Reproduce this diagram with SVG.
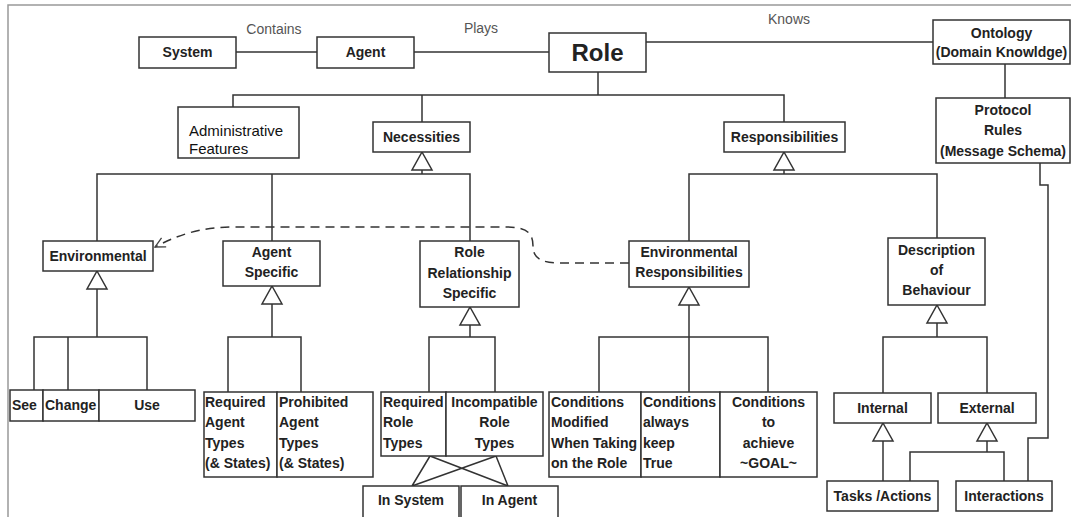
<svg xmlns="http://www.w3.org/2000/svg" width="1071" height="517" viewBox="0 0 1071 517">
<defs>
<style>
.box{fill:#fff;stroke:#333;stroke-width:1.5}
.ln{fill:none;stroke:#333;stroke-width:1.5}
.t{font-family:"Liberation Sans",Arial,sans-serif;font-weight:bold;font-size:14px;fill:#222}
.c{text-anchor:middle}
.lbl{font-family:"Liberation Sans",Arial,sans-serif;font-size:14px;fill:#555;text-anchor:middle}
.n{font-family:"Liberation Sans",Arial,sans-serif;font-size:15px;fill:#111}
</style>
<path id="tri" d="M0,0 L10,18 L-10,18 Z" fill="#fff" stroke="#333" stroke-width="1.5"/>
<marker id="open" viewBox="0 0 12 12" refX="11" refY="6" markerWidth="12" markerHeight="12" markerUnits="userSpaceOnUse" orient="auto">
<path d="M1,1 L11,6 L1,11" fill="none" stroke="#444" stroke-width="1.3"/>
</marker>
</defs>
<rect width="1071" height="517" fill="#fff"/>
<rect x="8" y="5" width="1100" height="600" fill="none" stroke="#999" stroke-width="1.5"/>

<g id="connectors">
<line class="ln" x1="236" y1="52" x2="317" y2="52"/>
<line class="ln" x1="414" y1="52" x2="549" y2="52"/>
<line class="ln" x1="646" y1="42" x2="933" y2="42"/>
<line class="ln" x1="1005" y1="64" x2="1005" y2="98"/>
<line class="ln" x1="598" y1="72" x2="598" y2="95" stroke-width="2"/>
<polyline class="ln" points="233,107 233,95 784,95 784,122"/>
<line class="ln" x1="422" y1="95" x2="422" y2="122"/>
<polyline class="ln" points="1040,163 1040,185 1048,185 1048,438 1028,438 1028,481"/>
<!-- Necessities branch -->
<polyline class="ln" points="97,241 97,174 470,174 470,241"/>
<line class="ln" x1="272" y1="174" x2="272" y2="241"/>
<line class="ln" x1="422" y1="170" x2="422" y2="174"/>
<!-- Responsibilities branch -->
<polyline class="ln" points="689,241 689,174 937,174 937,238"/>
<line class="ln" x1="784" y1="170" x2="784" y2="174"/>
<!-- dashed dependency -->
<path class="ln" d="M629,263 L560,263 C538,263 533,256 533,246 C533,233 527,227 505,227 L235,227 C200,227 178,235 155,247" stroke="#444" stroke-dasharray="9,6" marker-end="url(#open)"/>
<!-- Environmental children -->
<line class="ln" x1="97" y1="289" x2="97" y2="337" stroke-width="2"/>
<polyline class="ln" points="34,390 34,337 147,337 147,390"/>
<line class="ln" x1="68" y1="337" x2="68" y2="390"/>
<!-- Agent specific children -->
<line class="ln" x1="272" y1="304" x2="272" y2="337"/>
<polyline class="ln" points="228,392 228,337 301,337 301,392"/>
<!-- Role relationship children -->
<line class="ln" x1="470" y1="325" x2="470" y2="337"/>
<polyline class="ln" points="429,392 429,337 495,337 495,392"/>
<path class="ln" d="M430,456 L412,486 M430,456 L508,486 M496,456 L412,486 M496,456 L508,486" stroke-width="1.2"/>
<!-- Env responsibilities children -->
<line class="ln" x1="689" y1="305" x2="689" y2="392" stroke-width="2"/>
<polyline class="ln" points="599,392 599,337 768,337 768,392"/>
<!-- Description children -->
<line class="ln" x1="937" y1="323" x2="937" y2="337"/>
<polyline class="ln" points="883,393 883,337 987,337 987,393"/>
<line class="ln" x1="883" y1="441" x2="883" y2="481"/>
<line class="ln" x1="987" y1="441" x2="987" y2="452"/>
<polyline class="ln" points="910,481 910,452 1004,452 1004,481"/>
<!-- generalization triangles -->
<use href="#tri" x="422" y="152"/>
<use href="#tri" x="784" y="152"/>
<use href="#tri" x="97" y="271"/>
<use href="#tri" x="272" y="286"/>
<use href="#tri" x="470" y="307"/>
<use href="#tri" x="689" y="287"/>
<use href="#tri" x="937" y="305"/>
<use href="#tri" x="883" y="423"/>
<use href="#tri" x="987" y="423"/>
</g>

<g id="labels">
<text class="lbl" x="274" y="34">Contains</text>
<text class="lbl" x="481" y="33">Plays</text>
<text class="lbl" x="789" y="24">Knows</text>
</g>

<g id="system"><rect class="box" x="139" y="37" width="97" height="31"/><text class="t c" x="187.5" y="57">System</text></g>
<g id="agent"><rect class="box" x="317" y="37" width="97" height="31"/><text class="t c" x="365.5" y="57">Agent</text></g>
<g id="role"><rect class="box" x="549" y="33" width="97" height="39"/><text class="t c" x="597.5" y="61" style="font-size:24px">Role</text></g>
<g id="ontology"><rect class="box" x="933" y="20" width="137" height="44"/><text class="t c" x="1001.5" y="38">Ontology</text><text class="t c" x="1001.5" y="57">(Domain Knowldge)</text></g>
<g id="protocol"><rect class="box" x="936" y="98" width="134" height="65"/><text class="t c" x="1003" y="115">Protocol</text><text class="t c" x="1003" y="135">Rules</text><text class="t c" x="1003" y="156">(Message Schema)</text></g>
<g id="admin"><rect class="box" x="178" y="107" width="121" height="51"/><text class="n" x="189" y="136">Administrative</text><text class="n" x="189" y="154">Features</text></g>
<g id="necessities"><rect class="box" x="373" y="122" width="97" height="30"/><text class="t c" x="421.5" y="142">Necessities</text></g>
<g id="responsibilities"><rect class="box" x="724" y="122" width="121" height="30"/><text class="t c" x="784.5" y="142">Responsibilities</text></g>
<g id="environmental"><rect class="box" x="43" y="241" width="110" height="30"/><text class="t c" x="98" y="261">Environmental</text></g>
<g id="agent-specific"><rect class="box" x="223" y="241" width="97" height="45"/><text class="t c" x="271.5" y="257">Agent</text><text class="t c" x="271.5" y="277">Specific</text></g>
<g id="role-relationship"><rect class="box" x="420" y="241" width="99" height="66"/><text class="t c" x="469.5" y="257">Role</text><text class="t c" x="469.5" y="278">Relationship</text><text class="t c" x="469.5" y="298">Specific</text></g>
<g id="env-resp"><rect class="box" x="629" y="241" width="120" height="46"/><text class="t c" x="689" y="257">Environmental</text><text class="t c" x="689" y="277">Responsibilities</text></g>
<g id="description"><rect class="box" x="888" y="238" width="97" height="67"/><text class="t c" x="936.5" y="255">Description</text><text class="t c" x="936.5" y="275">of</text><text class="t c" x="936.5" y="295">Behaviour</text></g>

<g id="see"><rect class="box" x="10" y="390" width="33" height="31"/><text class="t" x="12" y="410">See</text></g>
<g id="change"><rect class="box" x="43" y="390" width="56" height="31"/><text class="t" x="45" y="410">Change</text></g>
<g id="use"><rect class="box" x="99" y="390" width="96" height="31"/><text class="t c" x="147" y="410">Use</text></g>

<g id="required-agent"><rect class="box" x="204" y="392" width="73" height="85"/><text class="t" x="205" y="407">Required</text><text class="t" x="205" y="427">Agent</text><text class="t" x="205" y="448">Types</text><text class="t" x="205" y="468">(&amp; States)</text></g>
<g id="prohibited-agent"><rect class="box" x="277" y="392" width="96" height="85"/><text class="t" x="279" y="407">Prohibited</text><text class="t" x="279" y="427">Agent</text><text class="t" x="279" y="448">Types</text><text class="t" x="279" y="468">(&amp; States)</text></g>

<g id="required-role"><rect class="box" x="381" y="392" width="65" height="64"/><text class="t" x="383" y="407">Required</text><text class="t" x="383" y="427">Role</text><text class="t" x="383" y="448">Types</text></g>
<g id="incompatible-role"><rect class="box" x="446" y="392" width="97" height="64"/><text class="t c" x="494.5" y="407">Incompatible</text><text class="t c" x="494.5" y="427">Role</text><text class="t c" x="494.5" y="448">Types</text></g>
<g id="in-system"><rect class="box" x="363" y="486" width="96" height="32"/><text class="t c" x="411" y="505">In System</text></g>
<g id="in-agent"><rect class="box" x="461" y="486" width="97" height="32"/><text class="t c" x="509.5" y="505">In Agent</text></g>

<g id="cond-modified"><rect class="box" x="549" y="392" width="92" height="85"/><text class="t" x="551" y="407">Conditions</text><text class="t" x="551" y="427">Modified</text><text class="t" x="551" y="448">When Taking</text><text class="t" x="551" y="468">on the Role</text></g>
<g id="cond-always"><rect class="box" x="641" y="392" width="79" height="85"/><text class="t" x="643" y="407">Conditions</text><text class="t" x="643" y="427">always</text><text class="t" x="643" y="448">keep</text><text class="t" x="643" y="468">True</text></g>
<g id="cond-achieve"><rect class="box" x="720" y="392" width="97" height="85"/><text class="t c" x="768.5" y="407">Conditions</text><text class="t c" x="768.5" y="427">to</text><text class="t c" x="768.5" y="448">achieve</text><text class="t c" x="768.5" y="468">~GOAL~</text></g>

<g id="internal"><rect class="box" x="834" y="393" width="97" height="30"/><text class="t c" x="882.5" y="413">Internal</text></g>
<g id="external"><rect class="box" x="938" y="393" width="98" height="30"/><text class="t c" x="987" y="413">External</text></g>
<g id="tasks"><rect class="box" x="827" y="481" width="111" height="30"/><text class="t c" x="882.5" y="501">Tasks /Actions</text></g>
<g id="interactions"><rect class="box" x="956" y="481" width="96" height="30"/><text class="t c" x="1004" y="501">Interactions</text></g>
</svg>
